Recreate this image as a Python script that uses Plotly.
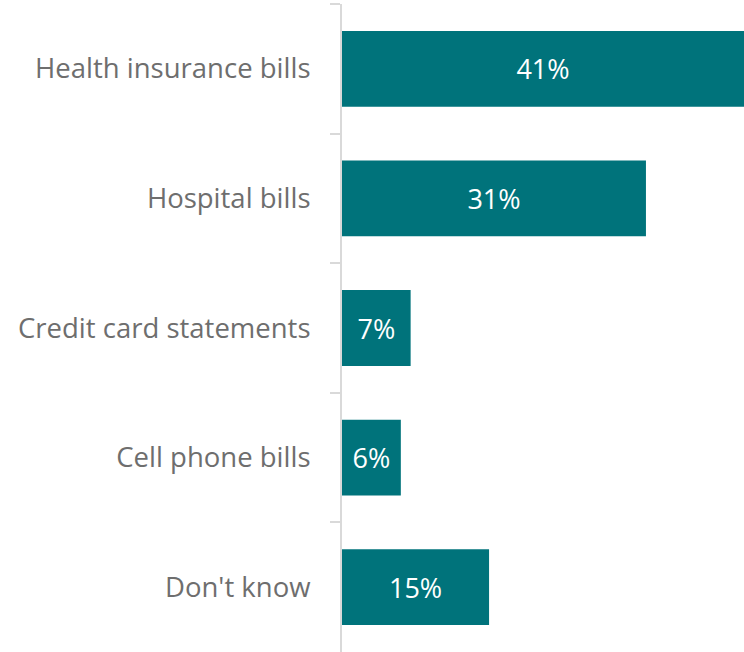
import plotly.graph_objects as go

categories = [
    "Health insurance bills",
    "Hospital bills",
    "Credit card statements",
    "Cell phone bills",
    "Don't know",
]
shares = [41, 31, 7, 6, 15]
value_labels = [f"{v}%" for v in shares]

bar_color = "#00737B"
axis_grey = "#D9D9D9"
label_grey = "#6E6E6E"

fig = go.Figure(
    go.Bar(
        x=shares,
        y=categories,
        orientation="h",
        marker=dict(color=bar_color, line=dict(width=0)),
        text=value_labels,
        textposition="inside",
        insidetextanchor="middle",
        textangle=0,
        textfont=dict(family="Open Sans, sans-serif", size=27, color="white"),
        cliponaxis=False,
        hoverinfo="skip",
    )
)

fig.update_layout(
    width=744,
    height=652,
    margin=dict(l=342, r=0, t=4, b=0),
    paper_bgcolor="white",
    plot_bgcolor="white",
    bargap=0.415,
    showlegend=False,
    uniformtext=dict(minsize=27, mode="show"),
)

fig.update_xaxes(
    range=[0, 41],
    visible=False,
    showgrid=False,
    zeroline=False,
)

fig.update_yaxes(
    autorange="reversed",
    showline=True,
    linecolor=axis_grey,
    linewidth=2,
    ticks="outside",
    tickson="boundaries",
    ticklen=10,
    tickwidth=2,
    tickcolor=axis_grey,
    ticklabelstandoff=24,
    showgrid=False,
    zeroline=False,
    tickfont=dict(family="Open Sans, sans-serif", size=27.5, color=label_grey),
)

fig.write_html("out.html")
